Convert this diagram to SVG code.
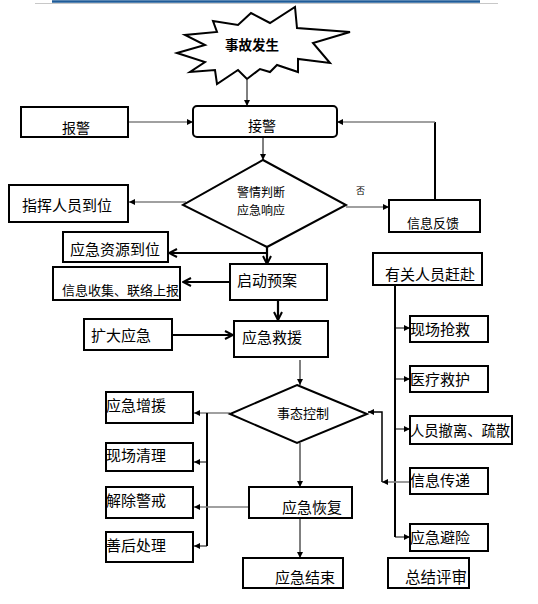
<svg xmlns="http://www.w3.org/2000/svg" width="538" height="604" viewBox="0 0 538 604">
<defs>
<marker id="fa" viewBox="0 0 8 8" refX="8" refY="4" markerWidth="6" markerHeight="6" markerUnits="userSpaceOnUse" orient="auto">
<path d="M0,0 L8,4 L0,8 z" fill="#000"/>
</marker>
<marker id="oa" viewBox="0 0 10 10" refX="9" refY="5" markerWidth="10" markerHeight="10" markerUnits="userSpaceOnUse" orient="auto">
<path d="M1,1 L9,5 L1,9" fill="none" stroke="#000" stroke-width="2"/>
</marker>
</defs>
<style>
.box{fill:#fff;stroke:#000;stroke-width:2}
.t{font-family:"Noto Sans CJK SC","Liberation Sans",sans-serif;font-size:15px;fill:#000}
.s{font-size:13px}
.thin{fill:none;stroke:#000;stroke-width:1}
.gray{fill:none;stroke:#808080;stroke-width:1.6}
.bold{fill:none;stroke:#000;stroke-width:2}
.thick{fill:none;stroke:#000;stroke-width:2.2}
</style>
<rect width="538" height="604" fill="#fff"/>
<line x1="35" y1="3.5" x2="498" y2="3.5" stroke="#c8c8c8" stroke-width="1"/>
<line x1="52" y1="1.5" x2="480" y2="1.5" stroke="#1f5c99" stroke-width="2.5"/>

<g id="connectors">
<line class="thin" x1="247" y1="80" x2="247" y2="106" marker-end="url(#fa)"/>
<line class="gray" x1="128" y1="122" x2="193" y2="122" marker-end="url(#fa)"/>
<line class="bold" x1="435" y1="200" x2="435" y2="122"/>
<line class="gray" x1="435" y1="122" x2="337" y2="122" marker-end="url(#fa)"/>
<line class="thin" x1="263" y1="137" x2="263" y2="160" marker-end="url(#fa)"/>
<line class="gray" x1="186" y1="202" x2="129" y2="202" marker-end="url(#fa)"/>
<line class="gray" x1="346" y1="207" x2="389" y2="207" marker-end="url(#fa)"/>
<line class="thick" x1="267" y1="247" x2="267" y2="264" marker-end="url(#oa)"/>
<line class="thick" x1="267" y1="253" x2="169" y2="253" marker-end="url(#oa)"/>
<line class="thick" x1="230" y1="282" x2="183" y2="282" marker-end="url(#oa)"/>
<line class="thick" x1="278" y1="300" x2="278" y2="320" marker-end="url(#oa)"/>
<line class="thick" x1="172" y1="335" x2="233" y2="335" marker-end="url(#oa)"/>
<line class="thin" x1="300" y1="360" x2="300" y2="385" marker-end="url(#fa)"/>
<line class="gray" x1="230" y1="413" x2="194" y2="413" marker-end="url(#fa)"/>
<line class="bold" x1="207" y1="413" x2="207" y2="546"/>
<line class="thin" x1="207" y1="462" x2="194" y2="462" marker-end="url(#fa)"/>
<line class="thin" x1="207" y1="546" x2="194" y2="546" marker-end="url(#fa)"/>
<line class="gray" x1="249" y1="507" x2="194" y2="507" marker-end="url(#fa)"/>
<line class="thin" x1="300" y1="443" x2="300" y2="487" marker-end="url(#fa)"/>
<line class="thin" x1="300" y1="518" x2="300" y2="558" marker-end="url(#fa)"/>
<line class="bold" x1="395" y1="285" x2="395" y2="537"/>
<line class="thin" x1="395" y1="328" x2="410" y2="328" marker-end="url(#fa)"/>
<line class="thin" x1="395" y1="379" x2="410" y2="379" marker-end="url(#fa)"/>
<line class="thin" x1="395" y1="429" x2="410" y2="429" marker-end="url(#fa)"/>
<line class="thin" x1="395" y1="537" x2="410" y2="537" marker-end="url(#fa)"/>
<line class="gray" x1="410" y1="482" x2="382" y2="482" marker-end="url(#fa)"/>
<polyline class="bold" points="382,482 382,412 368,412" marker-end="url(#fa)" style="stroke-width:1.5"/>
<text class="t" x="356" y="194" style="font-size:9px">否</text>
</g>

<g id="n-start">
<polygon points="177,53 205,45 185,35 217,32 213,21 238,25 251,13 270,23 295,7 297,28 350,32 313,43 330,63 298,59 298,72 277,65 270,72 260,69 247,79 238,70 217,84 215,70 190,72 205,62" fill="#fff" stroke="#000" stroke-width="2" stroke-linejoin="miter"/>
<text class="t" x="225" y="50" style="font-size:13.5px;font-weight:bold">事故发生</text>
</g>
<g id="n-baojing"><rect class="box" x="21" y="107" width="107" height="30"/><text class="t" x="62" y="133" style="font-size:14px">报警</text></g>
<g id="n-jiejing"><rect class="box" x="193" y="106" width="144" height="31" rx="4"/><text class="t" x="248" y="131" style="font-size:14px">接警</text></g>
<g id="n-judge"><polygon points="263,160 346,205 267,247 183,205" fill="#fff" stroke="#000" stroke-width="2"/><text class="t" x="237" y="197" style="font-size:12px">警情判断</text><text class="t" x="237" y="215" style="font-size:12px">应急响应</text></g>
<g id="n-zhihui"><rect class="box" x="9" y="185" width="119" height="37"/><text class="t" x="22" y="211">指挥人员到位</text></g>
<g id="n-fankui"><rect class="box" x="389" y="200" width="91" height="32"/><text class="t s" x="407" y="228">信息反馈</text></g>
<g id="n-ziyuan"><rect class="box" x="63" y="232" width="105" height="30"/><text class="t" x="70" y="255">应急资源到位</text></g>
<g id="n-xinxi"><rect class="box" x="53" y="267" width="127" height="33"/><text class="t s" x="62" y="295">信息收集、联络上报</text></g>
<g id="n-qidong"><rect class="box" x="230" y="264" width="97" height="36"/><text class="t" x="237" y="286">启动预案</text></g>
<g id="n-youguan"><rect class="box" x="373" y="253" width="109" height="32"/><text class="t" x="385" y="280">有关人员赶赴</text></g>
<g id="n-kuoda"><rect class="box" x="84" y="319" width="88" height="31"/><text class="t" x="91" y="341">扩大应急</text></g>
<g id="n-jiuyuan"><rect class="box" x="234" y="321" width="94" height="36"/><text class="t" x="242" y="343">应急救援</text></g>
<g id="n-xianchang"><rect class="box" x="410" y="316" width="78" height="26"/><text class="t" x="410" y="335">现场抢救</text></g>
<g id="n-yiliao"><rect class="box" x="410" y="366" width="78" height="26"/><text class="t" x="410" y="385">医疗救护</text></g>
<g id="n-kongzhi"><polygon points="297,385 367,414 297,443 230,414" fill="#fff" stroke="#000" stroke-width="2"/><text class="t s" x="277" y="418">事态控制</text></g>
<g id="n-zengyuan"><rect class="box" x="106" y="392" width="87" height="31"/><text class="t" x="106" y="411">应急增援</text></g>
<g id="n-chexi"><rect class="box" x="410" y="416" width="102" height="28"/><text class="t" x="410" y="436" style="font-size:14.3px">人员撤离、疏散</text></g>
<g id="n-qingli"><rect class="box" x="106" y="443" width="87" height="28"/><text class="t" x="106" y="461">现场清理</text></g>
<g id="n-chuandi"><rect class="box" x="410" y="468" width="78" height="26"/><text class="t" x="410" y="486">信息传递</text></g>
<g id="n-jiechu"><rect class="box" x="106" y="487" width="87" height="31"/><text class="t" x="106" y="506">解除警戒</text></g>
<g id="n-huifu"><rect class="box" x="249" y="487" width="103" height="31"/><text class="t" x="282" y="513">应急恢复</text></g>
<g id="n-bixian"><rect class="box" x="410" y="524" width="78" height="27"/><text class="t" x="410" y="543">应急避险</text></g>
<g id="n-shanhou"><rect class="box" x="106" y="532" width="87" height="30"/><text class="t" x="106" y="551">善后处理</text></g>
<g id="n-jieshu"><rect class="box" x="243" y="558" width="100" height="30"/><text class="t" x="275" y="583">应急结束</text></g>
<g id="n-zongjie"><rect class="box" x="388" y="558" width="81" height="30"/><text class="t" x="405" y="583" style="font-size:15.5px">总结评审</text></g>
</svg>
